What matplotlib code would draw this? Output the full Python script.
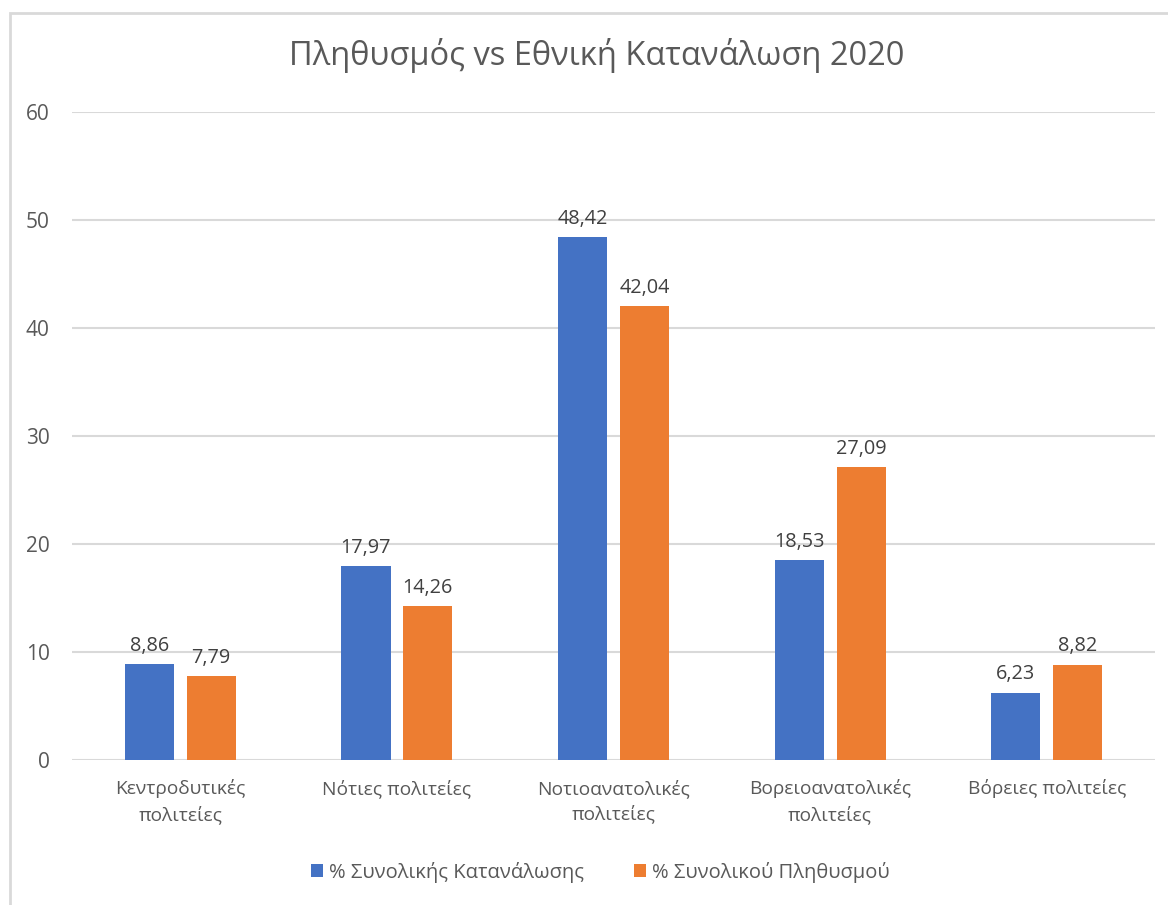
import numpy as np
import matplotlib.pyplot as plt
from matplotlib.patches import Rectangle

plt.rcParams['font.family'] = ['Open Sans', 'Noto Sans', 'DejaVu Sans']

categories = ["Κεντροδυτικές\nπολιτείες", "Νότιες πολιτείες", "Νοτιοανατολικές\nπολιτείες",
              "Βορειοανατολικές\nπολιτείες", "Βόρειες πολιτείες"]
consumption = [8.86, 17.97, 48.42, 18.53, 6.23]
population = [7.79, 14.26, 42.04, 27.09, 8.82]
series_names = ["% Συνολικής Κατανάλωσης", "% Συνολικού Πληθυσμού"]

BLUE = "#4472C4"
ORANGE = "#ED7D31"
TEXT = "#595959"

fig = plt.figure(figsize=(11.68, 9.05), dpi=100)
ax = fig.add_axes([0.0616, 0.1602, 0.9274, 0.716])

# chart border like excel
fig.patches.append(Rectangle((10 / 1168, -0.01), 1.02, 1 - 13 / 905 + 0.01, transform=fig.transFigure,
                             fill=False, edgecolor="#d9d9d9", linewidth=2))

x = np.arange(len(categories))
w = 0.227
off = 0.143
b1 = ax.bar(x - off, consumption, w, color=BLUE, label=series_names[0], zorder=3)
b2 = ax.bar(x + off, population, w, color=ORANGE, label=series_names[1], zorder=3)

fmt = lambda v: f"{v:.2f}".replace(".", ",")
ax.bar_label(b1, labels=[fmt(v) for v in consumption], padding=6, fontsize=14.3, color="#404040")
ax.bar_label(b2, labels=[fmt(v) for v in population], padding=6, fontsize=14.3, color="#404040")

ax.set_xlim(-0.5, len(categories) - 0.5)
ax.set_ylim(0, 60)
ax.set_yticks(range(0, 61, 10))
ax.yaxis.grid(True, color="#d9d9d9", linewidth=1.5, zorder=0)
ax.set_axisbelow(True)
for s in ax.spines.values():
    s.set_visible(False)
ax.tick_params(axis="both", length=0, labelcolor=TEXT)
ax.tick_params(axis="y", pad=16, labelsize=15)
ax.tick_params(axis="x", pad=14, labelsize=13.8)
ax.set_xticks(x)
ax.set_xticklabels(categories, linespacing=1.45)

fig.text(0.511, 0.939, "Πληθυσμός vs Εθνική Κατανάλωση 2020", ha="center", va="center",
         fontsize=23.5, color=TEXT)

fig.legend(handles=[b1, b2], loc="center", bbox_to_anchor=(0.514, 0.036), ncol=2, frameon=False,
           fontsize=14.5, labelcolor=TEXT, handlelength=0.6, handleheight=0.6, handletextpad=0.3,
           columnspacing=2.5)

fig.savefig("out.png", dpi=100, facecolor="white")
